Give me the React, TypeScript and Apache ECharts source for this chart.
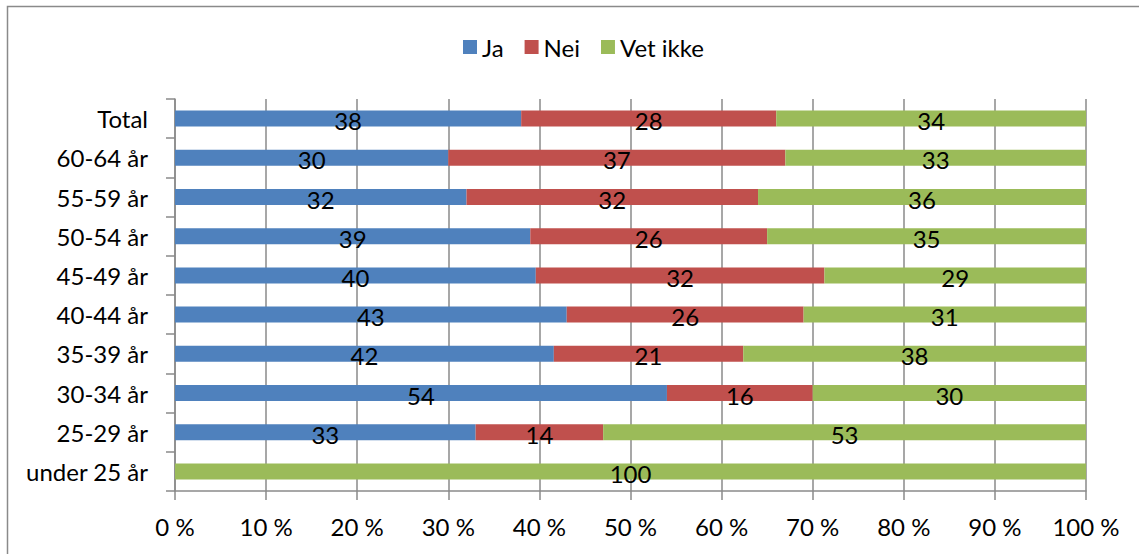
import React, { useEffect, useRef } from "react";
import * as echarts from "echarts";

const categories = ["Total", "60-64 år", "55-59 år", "50-54 år", "45-49 år", "40-44 år", "35-39 år", "30-34 år", "25-29 år", "under 25 år"];
const ja = [38, 30, 32, 39, 40, 43, 42, 54, 33, 0];
const nei = [28, 37, 32, 26, 32, 26, 21, 16, 14, 0];
const vetIkke = [34, 33, 36, 35, 29, 31, 38, 30, 53, 100];
const seriesNames = ["Ja", "Nei", "Vet ikke"];
const colors = ["#4F81BD", "#C0504D", "#9BBB59"];
const xTicks = [0, 10, 20, 30, 40, 50, 60, 70, 80, 90, 100];

const FONT = "Lato";
const FS = 24;

export default function App() {
  const ref = useRef<HTMLDivElement>(null);
  useEffect(() => {
    if (!ref.current) return;
    const chart = echarts.init(ref.current, null, { renderer: "svg" });
    const raw = [ja, nei, vetIkke];
    const totals = categories.map((_, i) => ja[i] + nei[i] + vetIkke[i]);
    const series = raw.map((arr, s) => ({
      name: seriesNames[s],
      type: "bar",
      stack: "all",
      barWidth: 16,
      itemStyle: { color: colors[s] },
      data: arr.map((v, i) => ({ value: (v / totals[i]) * 100, raw: v })),
      label: {
        show: true,
        position: "inside",
        color: "#000",
        fontFamily: FONT,
        fontSize: FS,
        offset: [0, 2],
        formatter: (p: any) => (p.data.raw ? String(p.data.raw) : ""),
      },
    }));
    chart.setOption({
      animation: false,
      textStyle: { fontFamily: FONT },
      graphic: [
        {
          type: "rect",
          shape: { x: 7.5, y: 6.5, width: 1200, height: 600 },
          style: { fill: "none", stroke: "#8a8a8a", lineWidth: 1.5 },
          silent: true,
        },
      ],
      legend: {
        left: 458,
        top: 30,
        icon: "rect",
        itemWidth: 14,
        itemHeight: 14,
        itemGap: 21,
        textStyle: { fontFamily: FONT, fontSize: FS, color: "#000" },
        data: seriesNames,
      },
      grid: { left: 175, right: 53, top: 99, bottom: 63, containLabel: false },
      xAxis: {
        type: "value",
        min: 0,
        max: 100,
        interval: 10,
        axisLine: { show: true, lineStyle: { color: "#8a8a8a", width: 1.5 } },
        axisTick: { show: true, length: 9, inside: false, lineStyle: { color: "#8a8a8a", width: 1.5 } },
        splitLine: { show: true, lineStyle: { color: "#8a8a8a", width: 1.5 } },
        axisLabel: {
          margin: 23,
          color: "#000",
          fontFamily: FONT,
          fontSize: FS,
          formatter: (v: number) => (xTicks.includes(v) ? `${v} %` : ""),
        },
      },
      yAxis: {
        type: "category",
        data: categories,
        inverse: true,
        axisLine: { show: true, lineStyle: { color: "#8a8a8a", width: 1.5 } },
        axisTick: { show: true, length: 9, lineStyle: { color: "#8a8a8a", width: 1.5 } },
        axisLabel: { margin: 27, color: "#000", fontFamily: FONT, fontSize: FS },
      },
      series,
    });
    return () => chart.dispose();
  }, []);
  return <div ref={ref} style={{ position: "fixed", left: 0, top: 0, width: 1139, height: 554, background: "#fff" }} />;
}
